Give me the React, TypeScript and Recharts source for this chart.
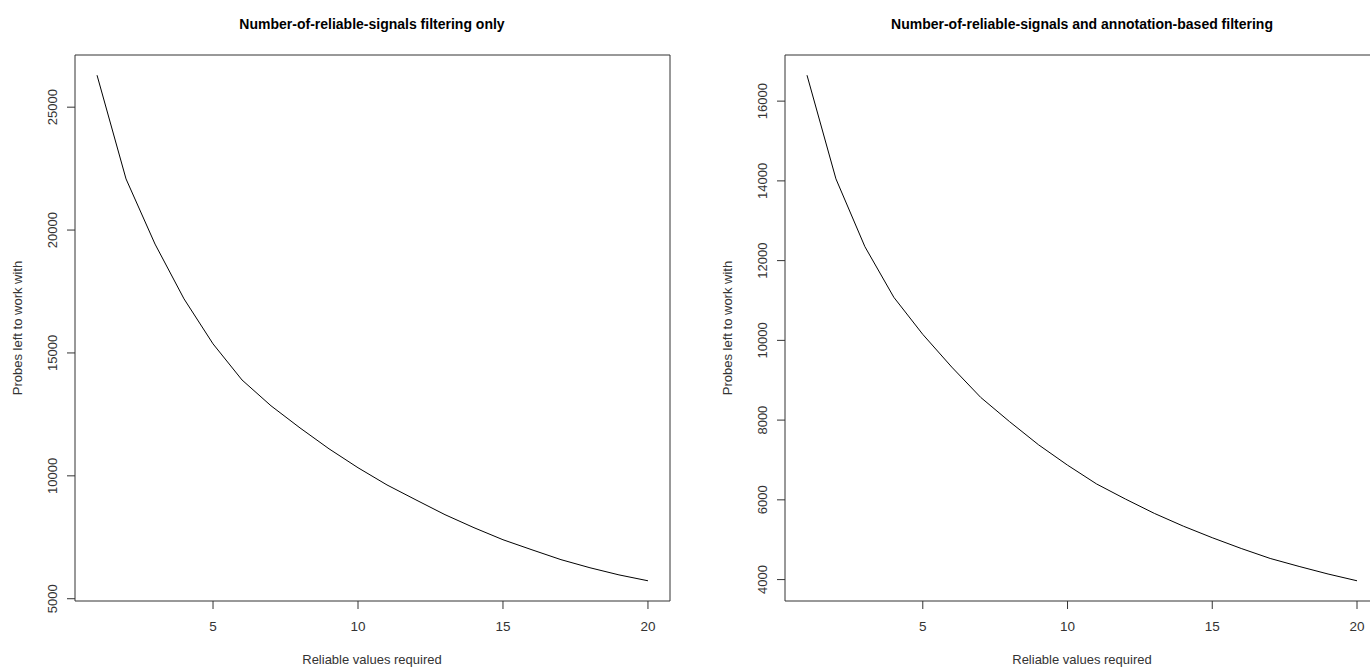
import { LineChart, Line, XAxis, YAxis } from 'recharts'

// x: number of reliable values required per probe
const reliableRequired = [1, 2, 3, 4, 5, 6, 7, 8, 9, 10, 11, 12, 13, 14, 15, 16, 17, 18, 19, 20]

// probes remaining
const probesSignalsOnly = [
  26300, 22080, 19430, 17200, 15370, 13900, 12850, 11950, 11100, 10330,
  9630, 9020, 8420, 7890, 7400, 6990, 6590, 6260, 5970, 5730,
]
const probesWithAnnotation = [
  16650, 14050, 12350, 11080, 10150, 9330, 8570, 7960, 7380, 6870,
  6400, 6020, 5660, 5340, 5050, 4780, 4530, 4330, 4140, 3970,
]

const xTicks = [5, 10, 15, 20]
const leftYTicks = [5000, 10000, 15000, 20000, 25000]
const rightYTicks = [4000, 6000, 8000, 10000, 12000, 14000, 16000]

const FONT = '"Liberation Sans", Arial, Helvetica, sans-serif'
const AXIS = '#333'

// R-style axis range: data range widened by 4% on each side
const rRange = (vals: number[]): [number, number] => {
  const lo = Math.min(...vals)
  const hi = Math.max(...vals)
  const pad = (hi - lo) * 0.04
  return [lo - pad, hi + pad]
}

const YTick = (props: any) => {
  const { x, y, payload } = props
  return (
    <text
      x={x}
      y={y}
      dy={-10}
      transform={`rotate(-90, ${x}, ${y})`}
      textAnchor="middle"
      fontSize={13}
      fill={AXIS}
      fontFamily={FONT}
    >
      {payload.value}
    </text>
  )
}

const XTick = (props: any) => {
  const { x, y, payload } = props
  return (
    <text x={x} y={y} dy={22} textAnchor="middle" fontSize={13.5} fill={AXIS} fontFamily={FONT}>
      {payload.value}
    </text>
  )
}

interface PanelProps {
  values: number[]
  yTicks: number[]
  left: number
  plotLeft: number
  plotRight: number
}

// each panel is 700 wide; plot box runs y 55..601
function Panel({ values, yTicks, left, plotLeft, plotRight }: PanelProps) {
  const data = reliableRequired.map((r, i) => ({ r, probes: values[i] }))
  const yDomain = rRange(values)
  const xDomain = rRange(reliableRequired)
  return (
    <div style={{ position: 'absolute', left, top: 0 }}>
      <LineChart
        width={700}
        height={667}
        data={data}
        margin={{ top: 54, right: 700 - plotRight - 1, bottom: 65, left: plotLeft - 1 }}
      >
        <XAxis
          dataKey="r"
          type="number"
          domain={xDomain}
          ticks={xTicks}
          height={1}
          tickSize={8}
          tickMargin={0}
          tick={<XTick />}
          stroke={AXIS}
          allowDataOverflow
        />
        <XAxis
          xAxisId="top"
          orientation="top"
          dataKey="r"
          type="number"
          domain={xDomain}
          height={1}
          tick={false}
          tickLine={false}
          stroke={AXIS}
        />
        <YAxis
          type="number"
          domain={yDomain}
          ticks={yTicks}
          width={1}
          tickSize={8}
          tickMargin={0}
          tick={<YTick />}
          stroke={AXIS}
          allowDataOverflow
        />
        <YAxis
          yAxisId="right"
          orientation="right"
          type="number"
          domain={yDomain}
          width={1}
          tick={false}
          tickLine={false}
          stroke={AXIS}
        />
        <Line
          type="linear"
          dataKey="probes"
          stroke="#000"
          strokeWidth={1}
          dot={false}
          isAnimationActive={false}
        />
      </LineChart>
    </div>
  )
}

export default function App() {
  return (
    <div
      style={{
        position: 'absolute',
        left: 0,
        top: 0,
        width: 1370,
        height: 667,
        overflow: 'hidden',
        background: '#fff',
      }}
    >
      <Panel values={probesSignalsOnly} yTicks={leftYTicks} left={0} plotLeft={75} plotRight={670} />
      <Panel values={probesWithAnnotation} yTicks={rightYTicks} left={700} plotLeft={85} plotRight={679} />
      <svg
        width={1370}
        height={667}
        style={{ position: 'absolute', left: 0, top: 0, pointerEvents: 'none' }}
        fontFamily={FONT}
      >
        <text x={372} y={29} textAnchor="middle" fontSize={14} fontWeight="bold" fill="#000">
          Number-of-reliable-signals filtering only
        </text>
        <text x={1082} y={29} textAnchor="middle" fontSize={14} fontWeight="bold" fill="#000">
          Number-of-reliable-signals and annotation-based filtering
        </text>
        <text x={372} y={664} textAnchor="middle" fontSize={13} fill={AXIS}>
          Reliable values required
        </text>
        <text x={1082} y={664} textAnchor="middle" fontSize={13} fill={AXIS}>
          Reliable values required
        </text>
        <text x={22} y={328} transform="rotate(-90, 22, 328)" textAnchor="middle" fontSize={13} fill={AXIS}>
          Probes left to work with
        </text>
        <text x={732} y={328} transform="rotate(-90, 732, 328)" textAnchor="middle" fontSize={13} fill={AXIS}>
          Probes left to work with
        </text>
      </svg>
    </div>
  )
}
